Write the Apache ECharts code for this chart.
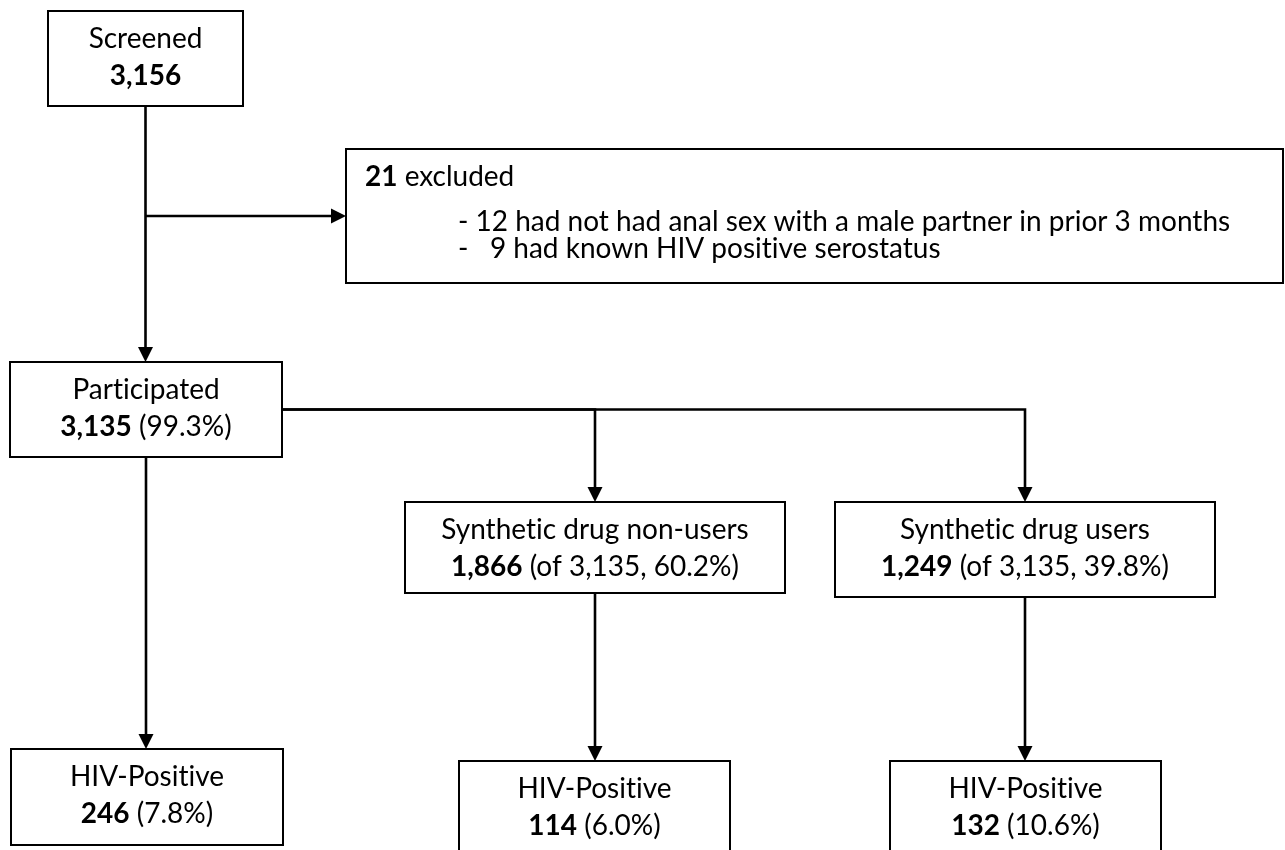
<!DOCTYPE html>
<html><head><meta charset="utf-8">
<script src="https://cdn.jsdelivr.net/npm/echarts@6/dist/echarts.min.js"></script>
<style>html,body{margin:0;padding:0;background:#fff}#c{width:1285px;height:850px}</style>
</head><body><div id="c"></div>
<script>
// ---- data ----
const stageTitles = ['Screened', 'Participated', 'Synthetic drug non-users', 'Synthetic drug users', 'HIV-Positive', 'HIV-Positive', 'HIV-Positive'];
const stageCounts = ['3,156', '3,135', '1,866', '1,249', '246', '114', '132'];
const stageNotes = ['', '(99.3%)', '(of 3,135, 60.2%)', '(of 3,135, 39.8%)', '(7.8%)', '(6.0%)', '(10.6%)'];
const excludedCount = '21';
const excludedLabel = 'excluded';
const excludedReasons = ['- 12 had not had anal sex with a male partner in prior 3 months', '-   9 had known HIV positive serostatus'];
// links: [from, to, routing]; 7 = excluded box
const flowLinks = [[0, 1, 'down'], [0, 7, 'side'], [1, 2, 'elbow'], [1, 3, 'elbow'], [1, 4, 'down'], [2, 5, 'down'], [3, 6, 'down']];

// ---- layout (axis units) ----
const boxLayout = {
  0: [48, 11, 243, 106],
  1: [10, 362, 282, 457],
  2: [405, 502, 785, 593],
  3: [835, 502, 1215, 597],
  4: [11, 749, 283, 845],
  5: [459, 761, 730, 880],
  6: [890, 761, 1161, 880],
  7: [346, 149, 1283, 283]
};
const FONT = 'Lato';
const FS = 28;
const rich = {
  b: { fontWeight: 'bold', fontSize: FS, fontFamily: FONT, fill: '#000' },
  n: { fontWeight: 'normal', fontSize: FS, fontFamily: FONT, fill: '#000' }
};
// avoid the font's "ti" ligature (display only)
function noLig(s) { return s.replace(/ti/g, 't\u200Ci'); }

function renderBox(params, api) {
  const i = api.value(0);
  const b = boxLayout[i];
  const p0 = api.coord([b[0], b[1]]), p1 = api.coord([b[2], b[3]]);
  const x = p0[0], y = p0[1], w = p1[0] - p0[0], h = p1[1] - p0[1];
  const children = [{ type: 'rect', shape: { x: x, y: y, width: w, height: h }, style: { fill: '#fff', stroke: '#000', lineWidth: 2 } }];
  const base = { fontSize: FS, fontFamily: FONT, fill: '#000', verticalAlign: 'middle', rich: rich };
  if (i === 7) {
    children.push({ type: 'text', style: Object.assign({}, base, { x: x + 19, y: y + 28, align: 'left', text: '{b|' + excludedCount + '}{n| ' + excludedLabel + '}' }) });
    excludedReasons.forEach(function (r, k) {
      children.push({ type: 'text', style: Object.assign({}, base, { x: x + 112, y: y + 73 + k * 26.5, align: 'left', text: '{n|' + noLig(r) + '}' }) });
    });
  } else {
    const cx = x + w / 2;
    children.push({ type: 'text', style: Object.assign({}, base, { x: cx, y: y + 28, align: 'center', text: '{n|' + noLig(stageTitles[i]) + '}' }) });
    const t2 = '{b|' + stageCounts[i] + '}' + (stageNotes[i] ? '{n| ' + stageNotes[i] + '}' : '');
    children.push({ type: 'text', style: Object.assign({}, base, { x: cx, y: y + 65, align: 'center', text: t2 }) });
  }
  return { type: 'group', children: children };
}

function renderLink(params, api) {
  const L = flowLinks[api.value(0)];
  const S = boxLayout[L[0]], T = boxLayout[L[1]];
  const sx = (S[0] + S[2]) / 2, tx = (T[0] + T[2]) / 2, ty = (T[1] + T[3]) / 2, sy = (S[1] + S[3]) / 2;
  let pts;
  if (L[2] === 'down') pts = [[sx, S[3]], [sx, T[1]]];
  else if (L[2] === 'side') pts = [[sx, ty], [T[0], ty]];
  else pts = [[S[2], sy], [tx, sy], [tx, T[1]]];
  const px = pts.map(function (p) { return api.coord(p); });
  const a = px[px.length - 1], b = px[px.length - 2];
  const dx = a[0] - b[0], dy = a[1] - b[1], len = Math.hypot(dx, dy), ux = dx / len, uy = dy / len;
  const AL = 15, AW = 7.5;
  const bs = [a[0] - ux * AL, a[1] - uy * AL];
  const tri = [a, [bs[0] - uy * AW, bs[1] + ux * AW], [bs[0] + uy * AW, bs[1] - ux * AW]];
  const linePts = px.slice(0, -1).concat([[bs[0] + ux * 1, bs[1] + uy * 1]]);
  return {
    type: 'group', children: [
      { type: 'polyline', shape: { points: linePts }, style: { stroke: '#000', lineWidth: 2.6, fill: null } },
      { type: 'polygon', shape: { points: tri }, style: { fill: '#000' } }
    ]
  };
}

const chart = echarts.init(document.getElementById('c'), null, { renderer: 'canvas' });
chart.setOption({
  animation: false,
  backgroundColor: '#fff',
  grid: { left: 0, right: 0, top: 0, bottom: 0 },
  xAxis: { type: 'value', min: 0, max: 1285, show: false },
  yAxis: { type: 'value', min: 0, max: 850, inverse: true, show: false },
  series: [
    { type: 'custom', coordinateSystem: 'cartesian2d', renderItem: renderLink, clip: false, silent: true,
      data: flowLinks.map(function (l, k) { return [k, 0]; }) },
    { type: 'custom', coordinateSystem: 'cartesian2d', renderItem: renderBox, clip: false, silent: true,
      data: [0, 1, 2, 3, 4, 5, 6, 7].map(function (k) { return [k, 0]; }) }
  ]
});
</script></body></html>
